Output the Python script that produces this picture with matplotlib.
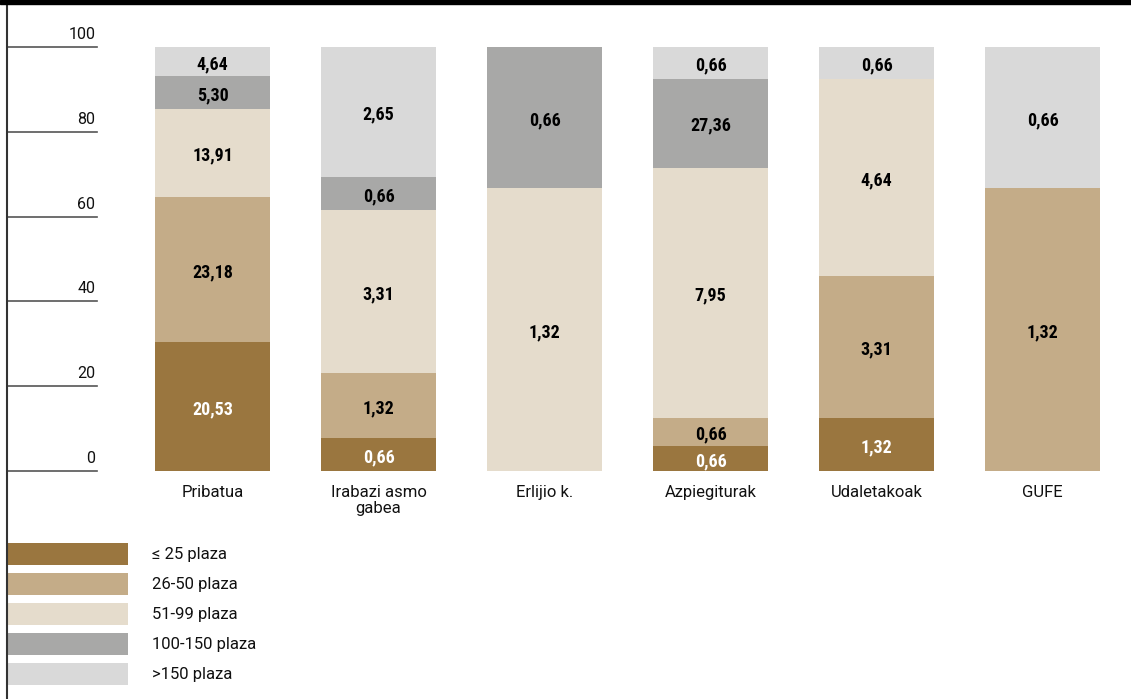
import matplotlib
matplotlib.use("Agg")
import matplotlib.pyplot as plt
from matplotlib.patches import Rectangle
from matplotlib.lines import Line2D
import numpy as np

plt.rcParams['font.family'] = ['Roboto', 'DejaVu Sans']

categories = ["Pribatua", "Irabazi asmo\ngabea", "Erlijio k.", "Azpiegiturak", "Udaletakoak", "GUFE"]
series = ["≤ 25 plaza", "26-50 plaza", "51-99 plaza", "100-150 plaza", ">150 plaza"]
colors = ["#9a763f", "#c4ac88", "#e5dccc", "#a8a8a7", "#d9d9d9"]
text_colors = ["white", "black", "black", "black", "black"]

# segment heights (share of column, %) per series
le25   = [30.4, 7.7, 0.0, 5.9, 12.5, 0.0]
p26_50 = [34.3, 15.4, 0.0, 6.6, 33.5, 66.7]
p51_99 = [20.6, 38.5, 66.7, 59.0, 46.5, 0.0]
p100   = [7.8, 7.7, 33.3, 21.0, 0.0, 0.0]
gt150  = [6.9, 30.7, 0.0, 7.5, 7.5, 33.3]
shares = [le25, p26_50, p51_99, p100, gt150]

# printed labels on the segments
lab_le25   = ["20,53", "0,66", "", "0,66", "1,32", ""]
lab_26_50  = ["23,18", "1,32", "", "0,66", "3,31", "1,32"]
lab_51_99  = ["13,91", "3,31", "1,32", "7,95", "4,64", ""]
lab_100    = ["5,30", "0,66", "0,66", "27,36", "", ""]
lab_gt150  = ["4,64", "2,65", "", "0,66", "0,66", "0,66"]
labels = [lab_le25, lab_26_50, lab_51_99, lab_100, lab_gt150]

yticks = [0, 20, 40, 60, 80, 100]

W, H = 1131, 699
fig = plt.figure(figsize=(W / 100, H / 100), dpi=100)

# axes spans x px 7..1131, y px 47..471
ax = fig.add_axes([7 / W, (H - 471) / H, 1 - 7 / W, (471 - 47) / H])
x = np.arange(len(categories))
ax.set_xlim((7 - 212.5) / 166, (W - 212.5) / 166)
ax.set_ylim(0, 100)
ax.axis("off")

num_font = dict(family=['Roboto Condensed', 'Liberation Sans Narrow', 'DejaVu Sans'],
                fontweight="bold", fontsize=13)

bottom = np.zeros(len(categories))
for s, vals in enumerate(shares):
    vals = np.array(vals)
    ax.bar(x, vals, 0.693, bottom=bottom, color=colors[s], linewidth=0)
    for i, v in enumerate(vals):
        if labels[s][i]:
            ax.text(x[i], bottom[i] + v / 2 - 0.6, labels[s][i], ha="center", va="center",
                    color=text_colors[s], **num_font)
    bottom += vals

# short grid segments with labels at the left
gx0, gx1 = (7 - 212.5) / 166, (97 - 212.5) / 166
for t in yticks:
    ax.plot([gx0, gx1], [t, t], color="#555555", lw=1.2, clip_on=False)
    ax.text(gx1 - 0.01, t + 1.2, str(t), ha="right", va="bottom", fontsize=11.5, color="#111111")

for i, c in enumerate(categories):
    ax.text(x[i], -3.2, c, ha="center", va="top", fontsize=12, multialignment="center",
            linespacing=1.15, color="#111111")

# top bar and left rule
fig.patches.append(Rectangle((0, (H - 4) / H), 1, 4 / H, transform=fig.transFigure,
                             color="black", zorder=5))
fig.lines.append(Line2D([6.5 / W, 6.5 / W], [0, 1], transform=fig.transFigure,
                        color="#333333", lw=1.5))

# legend
for s, name in enumerate(series):
    top = 543 + 30 * s
    fig.patches.append(Rectangle((7 / W, (H - top - 22) / H), 121 / W, 22 / H,
                                 transform=fig.transFigure, color=colors[s], lw=0))
    fig.text(152 / W, (H - top - 12) / H, name, ha="left", va="center", fontsize=12,
             color="#111111")

fig.savefig("out.png", dpi=100)
